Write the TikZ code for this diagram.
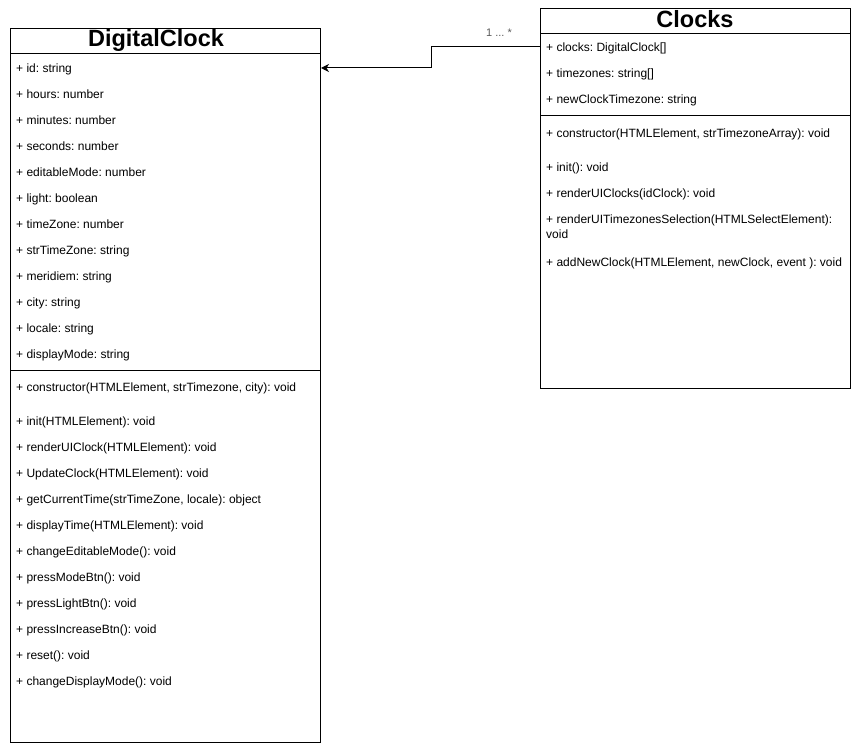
\documentclass[tikz,border=0pt]{standalone}
\usepackage{fontspec}
\setmainfont{Liberation Sans}
\usetikzlibrary{arrows.meta}
\frenchspacing
\begin{document}
\begin{tikzpicture}[x=1pt,y=-1pt,
  box/.style={draw=black,line width=1pt,fill=white},
  title/.style={font=\fontsize{23.5}{26}\selectfont\bfseries,anchor=base,inner sep=0pt},
  item/.style={font=\fontsize{12}{15}\selectfont,anchor=base west,inner sep=0pt,align=left},
  conn/.style={draw=black,line width=1pt,-{Stealth[length=8pt,width=8pt,inset=2.5pt]}},
  mult/.style={font=\fontsize{11}{13}\selectfont,text=black!65,inner sep=0pt}]
\useasboundingbox (0,0) rectangle (851,743);
% DigitalClock
\node[box,minimum width=310pt,minimum height=714pt,inner sep=0pt,anchor=north west] (dc) at (10,28) {};
\draw[line width=1pt] (10,54) -- (320,54);
\draw[line width=1pt] (10,370) -- (320,370);
\node[title] (dct) at (156,47) {DigitalClock};
\node[item] (dc1) at (16,72.5) {+ id: string};
\node[item] (dc2) at (16,98.5) {+ hours: number};
\node[item] (dc3) at (16,124.5) {+ minutes: number};
\node[item] (dc4) at (16,150.5) {+ seconds: number};
\node[item] (dc5) at (16,176.5) {+ editableMode: number};
\node[item] (dc6) at (16,202.5) {+ light: boolean};
\node[item] (dc7) at (16,228.5) {+ timeZone: number};
\node[item] (dc8) at (16,254.5) {+ strTimeZone: string};
\node[item] (dc9) at (16,280.5) {+ meridiem: string};
\node[item] (dc10) at (16,306.5) {+ city: string};
\node[item] (dc11) at (16,332.5) {+ locale: string};
\node[item] (dc12) at (16,358.5) {+ displayMode: string};
\node[item] (dm1) at (16,391.5) {+ constructor(HTMLElement, strTimezone, city): void};
\node[item] (dm2) at (16,425.5) {+ init(HTMLElement): void};
\node[item] (dm3) at (16,451.5) {+ renderUIClock(HTMLElement): void};
\node[item] (dm4) at (16,477.5) {+ UpdateClock(HTMLElement): void};
\node[item] (dm5) at (16,503.5) {+ getCurrentTime(strTimeZone, locale): object};
\node[item] (dm6) at (16,529.5) {+ displayTime(HTMLElement): void};
\node[item] (dm7) at (16,555.5) {+ changeEditableMode(): void};
\node[item] (dm8) at (16,581.5) {+ pressModeBtn(): void};
\node[item] (dm9) at (16,607.5) {+ pressLightBtn(): void};
\node[item] (dm10) at (16,633.5) {+ pressIncreaseBtn(): void};
\node[item] (dm11) at (16,659.5) {+ reset(): void};
\node[item] (dm12) at (16,685.5) {+ changeDisplayMode(): void};
% Clocks
\node[box,minimum width=310pt,minimum height=380pt,inner sep=0pt,anchor=north west] (cl) at (540,8) {};
\draw[line width=1pt] (540,34) -- (850,34);
\draw[line width=1pt] (540,116) -- (850,116);
\node[title] (clt) at (695,28) {Clocks};
\node[item] (ca1) at (546,51.5) {+ clocks: DigitalClock[]};
\node[item] (ca2) at (546,77.5) {+ timezones: string[]};
\node[item] (ca3) at (546,103.5) {+ newClockTimezone: string};
\node[item] (cm1) at (546,137.5) {+ constructor(HTMLElement, strTimezoneArray): void};
\node[item] (cm2) at (546,171.5) {+ init(): void};
\node[item] (cm3) at (546,197.5) {+ renderUIClocks(idClock): void};
\node[item] (cm4) at (546,223.5) {+ renderUITimezonesSelection(HTMLSelectElement):};
\node[item] (cm4b) at (546,238.5) {void};
\node[item] (cm5) at (546,266.5) {+ addNewClock(HTMLElement, newClock, event ): void};
% connector
\coordinate (bend1) at (431,47);
\coordinate (bend2) at (431,68);
\draw[conn] (cl.west |- bend1) -- (bend1) -- (bend2) -- (dc.east |- bend2);
\node[mult] (m) at (499,33) {1 ... *};
\end{tikzpicture}
\end{document}
